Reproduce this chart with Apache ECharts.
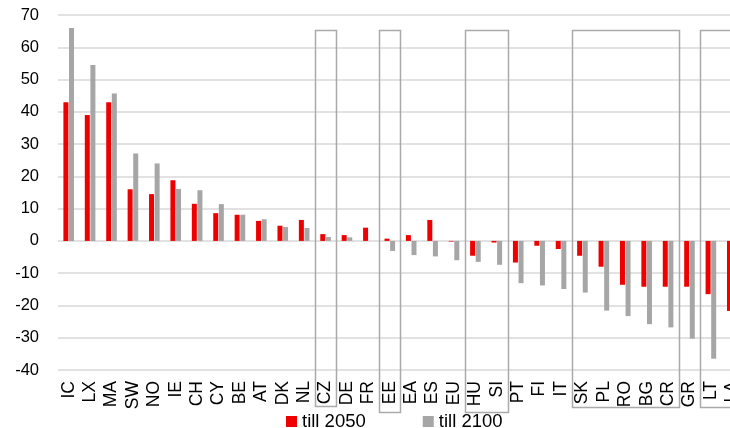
<!DOCTYPE html>
<html>
<head>
<meta charset="utf-8">
<script src="https://cdn.jsdelivr.net/npm/echarts@6/dist/echarts.min.js"></script>
<style>
  html, body { margin: 0; padding: 0; background: #fff; }
  #chart { width: 730px; height: 428px; }
</style>
</head>
<body>
<div id="chart"></div>
<script>
// Country codes along the horizontal axis
const countries = ['IC','LX','MA','SW','NO','IE','CH','CY','BE','AT','DK','NL','CZ','DE','FR','EE','EA','ES','EU','HU','SI','PT','FI','IT','SK','PL','RO','BG','CR','GR','LT','LA'];

// Population change (%) by 2050 and by 2100
const till2050 = [43, 39, 43, 16, 14.5, 18.8, 11.5, 8.6, 8.1, 6.2, 4.7, 6.5, 2.1, 1.8, 4.1, 0.7, 1.8, 6.5, -0.2, -4.6, -0.5, -6.7, -1.5, -2.5, -4.6, -8.0, -13.6, -14.2, -14.2, -14.2, -16.5, -21.7];
const till2100 = [66, 54.5, 45.7, 27.1, 24.0, 16.1, 15.7, 11.4, 8.1, 6.7, 4.3, 4.0, 1.2, 1.1, 0, -3.1, -4.4, -4.8, -6.0, -6.5, -7.4, -13.1, -13.8, -14.9, -16.0, -21.6, -23.3, -25.8, -26.8, -30.3, -36.5, -38];

const seriesNames = ['till 2050', 'till 2100'];
const yTicks = { min: -40, max: 70, step: 10 };

// Highlighted groups of countries (first and last code of each frame)
const framedGroups = [['CZ','CZ'], ['EE','EE'], ['HU','SI'], ['SK','CR'], ['LT','LA']];

const titleText = 'Total population by 2050 and 2100 (% deviation from 2013)';

const FONT = 'Liberation Sans, Arial, sans-serif';
const NARROW = 'Liberation Sans Narrow, Arial Narrow, Liberation Sans, sans-serif';
const chart = echarts.init(document.getElementById('chart'), null, { renderer: 'canvas' });

chart.setOption({
  animation: false,
  backgroundColor: '#ffffff',
  grid: { left: 58, top: 15, width: 685, bottom: 58, containLabel: false, outerBoundsMode: 'none' },
  legend: {
    data: seriesNames,
    left: 281, top: 407,
    itemWidth: 11, itemHeight: 11, itemGap: 57,
    icon: 'rect',
    textStyle: { fontFamily: FONT, fontSize: 18.5, color: '#000' }
  },
  xAxis: {
    type: 'category',
    data: countries,
    position: 'bottom',
    axisLine: { show: false },
    axisTick: { show: false },
    axisLabel: {
      rotate: 90, interval: 0, margin: 11,
      fontFamily: NARROW, fontSize: 17.5, color: '#000'
    }
  },
  yAxis: {
    type: 'value',
    min: yTicks.min, max: yTicks.max, interval: yTicks.step,
    axisLine: { show: false },
    axisTick: { show: false },
    axisLabel: { margin: 19, fontFamily: FONT, fontSize: 16.5, color: '#000' },
    splitLine: { lineStyle: { color: '#d9d9d9', width: 1.5 } }
  },
  series: [
    { name: seriesNames[0], type: 'bar', data: till2050, barWidth: 5, barGap: '12%',
      itemStyle: { color: '#ee0000' } },
    { name: seriesNames[1], type: 'bar', data: till2100, barWidth: 5, barGap: '12%',
      itemStyle: { color: '#a6a6a6' } }
  ]
});

// Frames around highlighted groups, placed from the category axis
function drawFrames() {
  const c0 = chart.convertToPixel({ xAxisIndex: 0 }, 0);
  const c1 = chart.convertToPixel({ xAxisIndex: 0 }, 1);
  const band = c1 - c0;
  const top = chart.convertToPixel({ yAxisIndex: 0 }, 65.5);
  const axisBottom = chart.convertToPixel({ yAxisIndex: 0 }, yTicks.min);
  const bottoms = [36, 42, 42, 37, 37];
  const elements = framedGroups.map(function (g, i) {
    const a = countries.indexOf(g[0]);
    const b = countries.indexOf(g[1]);
    const x0 = chart.convertToPixel({ xAxisIndex: 0 }, a) - band / 2;
    const x1 = chart.convertToPixel({ xAxisIndex: 0 }, b) + band / 2;
    return {
      type: 'rect', silent: true, z: 10,
      shape: { x: Math.round(x0) + 0.5, y: Math.round(top) + 0.5, width: Math.round(x1 - x0), height: Math.round(axisBottom + bottoms[i] - top) },
      style: { fill: null, stroke: '#aaaaaa', lineWidth: 1.5 }
    };
  });
  elements.push({
    type: 'text', silent: true, z: 10,
    x: 228, y: -1,
    style: { text: titleText, font: 'bold 14px ' + FONT, fill: '#000', align: 'left', verticalAlign: 'bottom' }
  });
  chart.setOption({ graphic: elements });
}
drawFrames();
</script>
</body>
</html>
